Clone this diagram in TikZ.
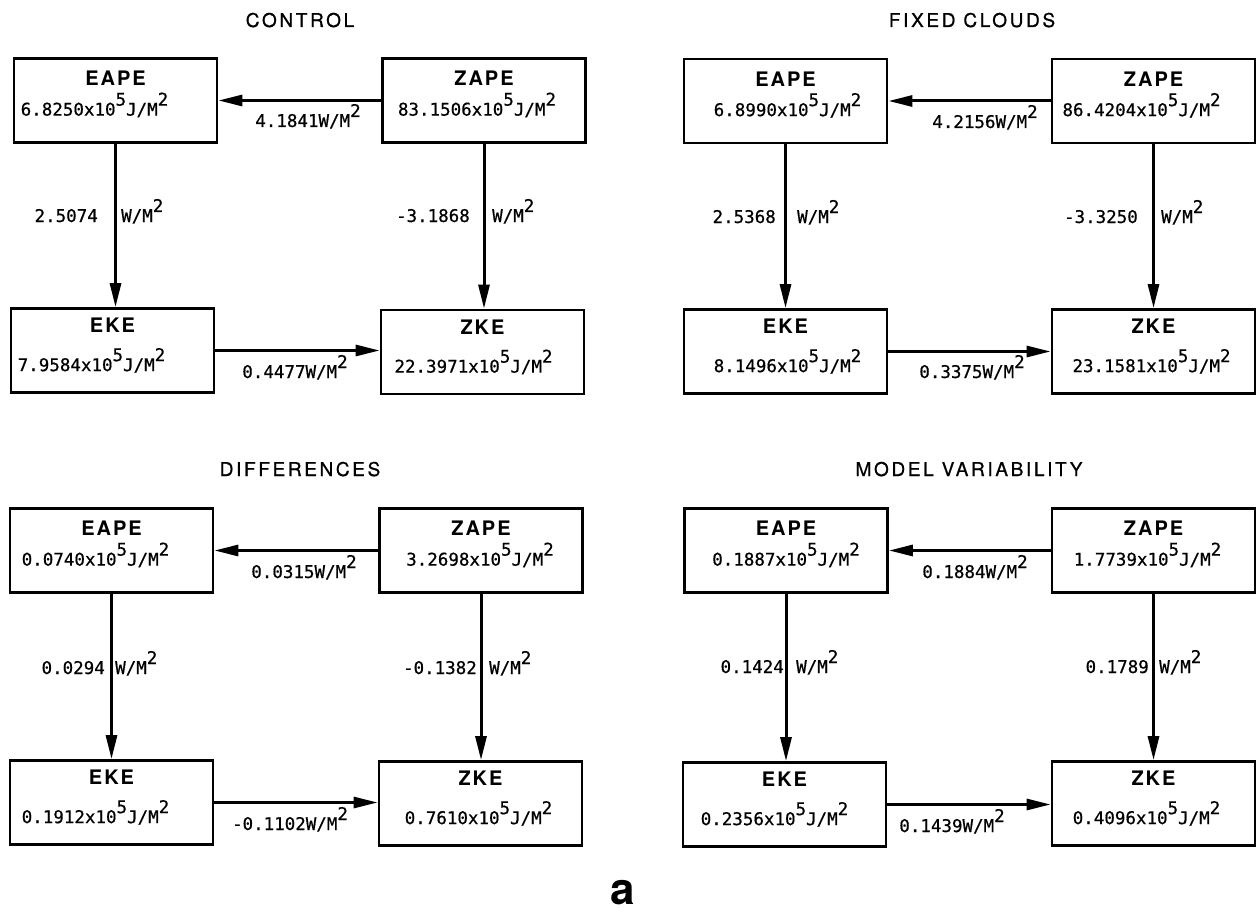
\documentclass[tikz,border=0pt]{standalone}
\usepackage{fontspec}
\setmainfont{TeX Gyre Heros}
\newfontfamily\valfont[FakeBold=0.6]{DejaVu Sans Mono}
\newfontfamily\ttlfont[LetterSpace=14,FakeBold=0.8]{TeX Gyre Heros}
\newfontfamily\lblfont[LetterSpace=10]{TeX Gyre Heros}
\usetikzlibrary{arrows.meta}
\newcommand\supr[1]{\raisebox{10pt}{#1}}
\newcommand\eval[1]{#1x10\supr{5}J/M\supr{2}}
\newcommand\wm{W/M\supr{2}}
\tikzset{
 box/.style={draw, line width=2.8pt, minimum width=203pt, minimum height=84pt, inner sep=0pt},
 lbl/.style={font=\lblfont\bfseries\fontsize{20}{20}\selectfont, inner sep=0pt, anchor=base},
 val/.style={font=\valfont\fontsize{17.5}{17.5}\selectfont, inner sep=0pt, anchor=base},
 ttl/.style={font=\ttlfont\fontsize{19}{19}\selectfont, inner sep=0pt, anchor=base},
 flow/.style={line width=3pt, -{Triangle[length=24pt,width=11pt]}},
}
\newcommand\ebox[7]{%
 \node[box] (#1) at (#2) {};
 \node[lbl] (#1l) at ([yshift=-#6pt]#1.north) {#3};
 \node[val] (#1v) at ([xshift=#5pt,yshift=-#7pt]#1.north) {\eval{#4}};
}
\begin{document}
\begin{tikzpicture}[x=1pt,y=-1pt]
\useasboundingbox[fill=white] (0,0) rectangle (1257,912);
% ---------- titles
\node[ttl] (title1) at (300,27) {CONTROL};
\node[ttl] (title2) at (972,27) {FIXED CLOUDS};
\node[ttl] (title3) at (300,476) {DIFFERENCES};
\node[ttl] (title4) at (969,476) {MODEL VARIABILITY};
% ---------- panel 1
\ebox{eape1}{115.5,100.5}{EAPE}{6.8250}{-21}{28.5}{58.5}
\ebox{zape1}{484,100.5}{ZAPE}{83.1506}{-7}{28.5}{58.5}
\ebox{eke1}{112.5,350.5}{EKE}{7.9584}{-21}{25.5}{64}
\ebox{zke1}{482.5,352}{ZKE}{22.3971}{-9}{25.5}{64}
\draw[flow] (zape1) -- (eape1);
\draw[flow] (eape1) -- (eape1 |- eke1.north);
\draw[flow] (zape1) -- (zape1 |- zke1.north);
\draw[flow] (eke1) -- (eke1 -| zke1.west);
\node[val] (f1t) at (308,127) {4.1841\wm};
\node[val, anchor=base east] (f1la) at (98,222) {2.5074};
\node[val, anchor=base west] (f1lb) at (121,222) {\wm};
\node[val, anchor=base east] (f1ra) at (470,222) {-3.1868};
\node[val, anchor=base west] (f1rb) at (492,222) {\wm};
\node[val] (f1b) at (295,378) {0.4477\wm};
% ---------- panel 2
\ebox{eape2}{785.5,101}{EAPE}{6.8990}{2}{28.5}{58.5}
\ebox{zape2}{1153.5,101}{ZAPE}{86.4204}{-12}{28.5}{58.5}
\ebox{eke2}{785.5,351.5}{EKE}{8.1496}{2}{25.5}{64}
\ebox{zke2}{1153.5,351.5}{ZKE}{23.1581}{-2}{25.5}{64}
\draw[flow] (zape2) -- (eape2);
\draw[flow] (eape2) -- (eape2 |- eke2.north);
\draw[flow] (zape2) -- (zape2 |- zke2.north);
\draw[flow] (eke2) -- (eke2 -| zke2.west);
\node[val] (f2t) at (985,128) {4.2156\wm};
\node[val, anchor=base east] (f2la) at (776,223) {2.5368};
\node[val, anchor=base west] (f2lb) at (797,223) {\wm};
\node[val, anchor=base east] (f2ra) at (1138,223) {-3.3250};
\node[val, anchor=base west] (f2rb) at (1161,223) {\wm};
\node[val] (f2b) at (972,378) {0.3375\wm};
% ---------- panel 3
\ebox{eape3}{111.5,550.5}{EAPE}{0.0740}{-16}{28.5}{58.5}
\ebox{zape3}{481,550.5}{ZAPE}{3.2698}{-1}{28.5}{58.5}
\ebox{eke3}{111.5,802.5}{EKE}{0.1912}{-16}{25.5}{64}
\ebox{zke3}{480.5,803.5}{ZKE}{0.7610}{-2}{25.5}{64}
\draw[flow] (zape3) -- (eape3);
\draw[flow] (eape3) -- (eape3 |- eke3.north);
\draw[flow] (zape3) -- (zape3 |- zke3.north);
\draw[flow] (eke3) -- (eke3 -| zke3.west);
\node[val] (f3t) at (304,578) {0.0315\wm};
\node[val, anchor=base east] (f3la) at (105,674) {0.0294};
\node[val, anchor=base west] (f3lb) at (115,674) {\wm};
\node[val, anchor=base east] (f3ra) at (477,674) {-0.1382};
\node[val, anchor=base west] (f3rb) at (489,674) {\wm};
\node[val] (f3b) at (290,830) {-0.1102\wm};
% ---------- panel 4
\ebox{eape4}{786,550.5}{EAPE}{0.1887}{0}{28.5}{58.5}
\ebox{zape4}{1153.5,550.5}{ZAPE}{1.7739}{-6}{28.5}{58.5}
\ebox{eke4}{784.5,804.5}{EKE}{0.2356}{-10}{25.5}{64}
\ebox{zke4}{1153.5,803.5}{ZKE}{0.4096}{-7}{25.5}{64}
\draw[flow] (zape4) -- (eape4);
\draw[flow] (eape4) -- (eape4 |- eke4.north);
\draw[flow] (zape4) -- (zape4 |- zke4.north);
\draw[flow] (eke4) -- (eke4 -| zke4.west);
\node[val] (f4t) at (975,578) {0.1884\wm};
\node[val, anchor=base east] (f4la) at (784,673) {0.1424};
\node[val, anchor=base west] (f4lb) at (796,673) {\wm};
\node[val, anchor=base east] (f4ra) at (1149,673) {0.1789};
\node[val, anchor=base west] (f4rb) at (1159,673) {\wm};
\node[val] (f4b) at (952,832) {0.1439\wm};
% ---------- figure letter
\node[font=\bfseries\fontsize{44}{44}\selectfont, anchor=base, inner sep=0pt] (figa) at (622.5,904) {a};
\end{tikzpicture}
\end{document}
